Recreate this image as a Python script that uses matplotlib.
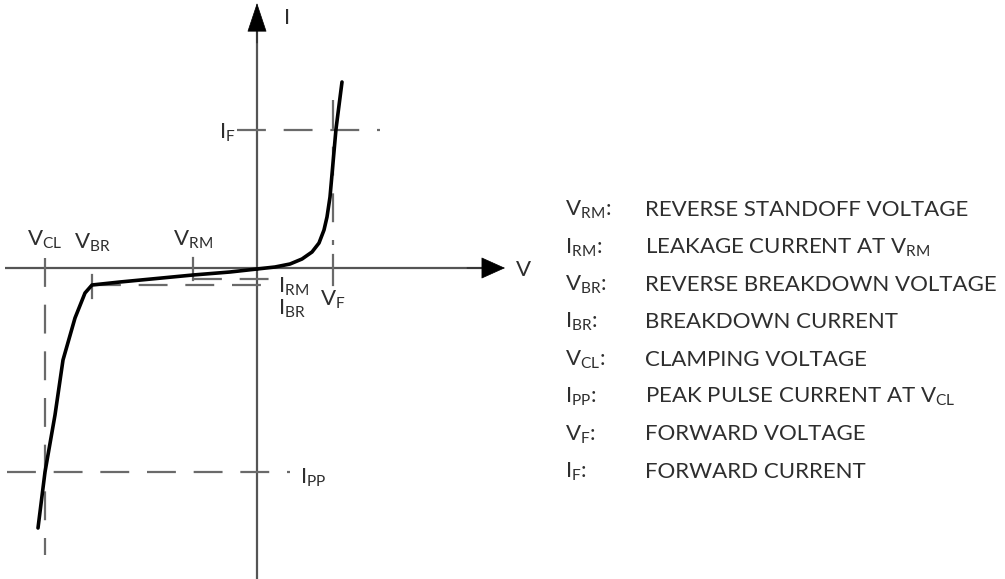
import matplotlib
matplotlib.use("Agg")
import matplotlib.pyplot as plt

plt.rcParams['font.family'] = ['Lato', 'DejaVu Sans']
plt.rcParams['mathtext.fontset'] = 'custom'
plt.rcParams['mathtext.rm'] = 'Lato'
plt.rcParams['mathtext.it'] = 'Lato'

# I-V curve of a TVS diode (diagram units, origin at axis crossing)
rev_v = [-219, -212, -202, -194, -182, -172, -165, -137, -64, -27, 0]
rev_i = [-260, -204, -147, -92, -50, -25, -17, -14, -7, -4, -1]
fwd_v = [0, 18, 33, 45, 55, 62, 67, 70, 73, 79, 85]
fwd_i = [-1, 1, 4, 9, 16, 25, 38, 51, 71, 139, 186]

# characteristic points
V_CL, V_BR, V_RM, V_F = -212, -165, -64, 76
I_F, I_PP, I_RM, I_BR = 138, -204, -11, -17

legend_sym = [r'$\mathregular{V_{RM}}$:', r'$\mathregular{I_{RM}}$:', r'$\mathregular{V_{BR}}$:',
              r'$\mathregular{I_{BR}}$:', r'$\mathregular{V_{CL}}$:', r'$\mathregular{I_{PP}}$:',
              r'$\mathregular{V_{F}}$:', r'$\mathregular{I_{F}}$:']
legend_txt = ['REVERSE STANDOFF VOLTAGE', r'LEAKAGE CURRENT AT $\mathregular{V_{RM}}$',
              'REVERSE BREAKDOWN VOLTAGE', 'BREAKDOWN CURRENT', 'CLAMPING VOLTAGE',
              r'PEAK PULSE CURRENT AT $\mathregular{V_{CL}}$', 'FORWARD VOLTAGE', 'FORWARD CURRENT']

fig = plt.figure(figsize=(10.05, 5.79), dpi=100)
ax = fig.add_axes([0, 0, 1, 1])
ax.set_xlim(-257, 748)
ax.set_ylim(-311, 268)
ax.axis('off')

axc = '#555555'
dc = '#6a6a6a'
tc = '#2e2e2e'
dash = (0, (13, 8))
lw_ax = 1.6

# axes
ax.plot([0, 0], [-311, 245], color=axc, lw=lw_ax, solid_capstyle='butt')
ax.plot([-252, 228], [0, 0], color=axc, lw=lw_ax, solid_capstyle='butt')
ax.annotate('', xy=(0, 265), xytext=(0, 225),
            arrowprops=dict(arrowstyle='-|>,head_length=1.95,head_width=0.65', color='black',
                            lw=0.5, shrinkA=0, shrinkB=0), annotation_clip=False)
ax.annotate('', xy=(248, 0), xytext=(210, 0),
            arrowprops=dict(arrowstyle='-|>,head_length=1.6,head_width=0.72', color='black',
                            lw=0.5, shrinkA=0, shrinkB=0))
ax.text(30, 250, 'I', fontsize=16, color=tc, ha='center', va='center')
ax.text(266, -2, 'V', fontsize=16, color=tc, ha='center', va='center')

# dashed reference lines
ax.plot([V_CL, V_CL], [10, -287], color=dc, lw=lw_ax, linestyle=dash)
ax.plot([-250, 33], [I_PP, I_PP], color=dc, lw=lw_ax, linestyle=dash)
ax.plot([-20, 123], [I_F, I_F], color=dc, lw=lw_ax, linestyle=dash)
ax.plot([V_F, V_F], [168, 23], color=dc, lw=lw_ax, linestyle=dash)
ax.plot([V_F, V_F], [13, -17], color=dc, lw=lw_ax)
ax.plot([V_RM, V_RM], [10, -12], color=dc, lw=lw_ax)
ax.plot([V_BR, V_BR], [-7, -30], color=dc, lw=lw_ax)
ax.plot([V_RM, 13], [I_RM, I_RM], color=dc, lw=lw_ax, linestyle=dash)
ax.plot([V_BR, 13], [I_BR, I_BR], color=dc, lw=lw_ax, linestyle=dash)

# curve
ax.plot(rev_v, rev_i, color='black', lw=2.6, solid_capstyle='round', solid_joinstyle='round')
ax.plot(fwd_v, fwd_i, color='black', lw=2.6, solid_capstyle='round', solid_joinstyle='round')

# point labels
fs = 16
ax.text(V_CL, 28, r'$\mathregular{V_{CL}}$', fontsize=fs, color=tc, ha='center', va='center')
ax.text(V_BR, 25, r'$\mathregular{V_{BR}}$', fontsize=fs, color=tc, ha='center', va='center')
ax.text(V_RM, 28, r'$\mathregular{V_{RM}}$', fontsize=fs, color=tc, ha='center', va='center')
ax.text(-30, I_F - 3, r'$\mathregular{I_{F}}$', fontsize=fs, color=tc, ha='center', va='center')
ax.text(V_F, -32, r'$\mathregular{V_{F}}$', fontsize=fs, color=tc, ha='center', va='center')
ax.text(21, -19, r'$\mathregular{I_{RM}}$', fontsize=fs, color=tc, ha='left', va='center')
ax.text(21, -41, r'$\mathregular{I_{BR}}$', fontsize=fs, color=tc, ha='left', va='center')
ax.text(43, I_PP - 6, r'$\mathregular{I_{PP}}$', fontsize=fs, color=tc, ha='left', va='center')

# legend
for k, (s, t) in enumerate(zip(legend_sym, legend_txt)):
    y = 58 - k * 37.4
    ax.text(308, y, s, fontsize=fs, color=tc, ha='left', va='center')
    ax.text(388, y, t, fontsize=fs, color=tc, ha='left', va='center')

fig.savefig('out.png', dpi=100)
